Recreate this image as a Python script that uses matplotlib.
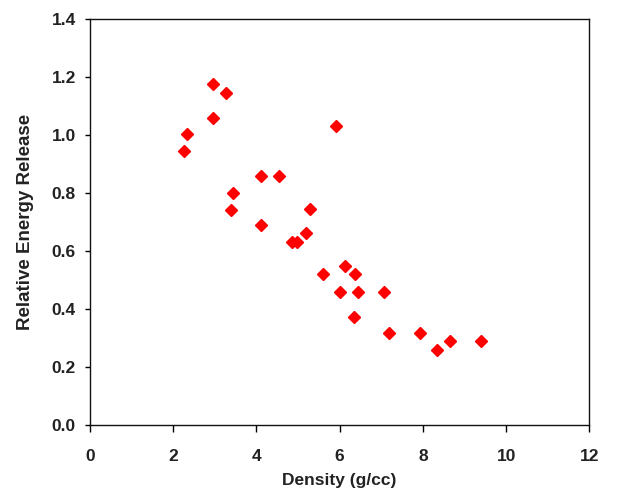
import matplotlib
matplotlib.use("Agg")
import matplotlib.pyplot as plt

# density (g/cc) vs relative energy release
density = [2.96, 3.27, 2.96, 2.33, 2.25, 4.12, 4.54, 3.44, 3.39, 4.12,
           5.92, 5.28, 5.18, 4.85, 4.97, 6.12, 5.61, 6.36, 6.00, 6.43,
           7.06, 6.34, 7.19, 7.92, 8.34, 8.66, 9.40]
energy = [1.176, 1.146, 1.060, 1.003, 0.946, 0.859, 0.859, 0.801, 0.742, 0.691,
          1.031, 0.744, 0.661, 0.632, 0.632, 0.548, 0.519, 0.519, 0.460, 0.460,
          0.460, 0.373, 0.316, 0.316, 0.259, 0.288, 0.288]

x_ticks = [0, 2, 4, 6, 8, 10, 12]
y_ticks = [0.0, 0.2, 0.4, 0.6, 0.8, 1.0, 1.2, 1.4]

plt.rcParams["font.family"] = ["Liberation Sans", "DejaVu Sans"]

fig = plt.figure(figsize=(6.3, 4.92), dpi=100)
ax = fig.add_axes([0.1429, 0.1362, 0.7925, 0.8252])

ax.plot(density, energy, linestyle="none", marker="D", markersize=6.2,
        color="#FF0000", markeredgecolor="#FF0000")

ax.set_xlim(0, 12)
ax.set_ylim(0, 1.4)
ax.set_xticks(x_ticks)
ax.set_yticks(y_ticks)
ax.set_xticklabels([str(t) for t in x_ticks])
ax.set_yticklabels([f"{t:.1f}" for t in y_ticks])
ax.tick_params(direction="out", width=1, labelsize=12.5, colors="black")
ax.tick_params(axis="x", length=5, pad=12)
ax.tick_params(axis="y", length=3.6, pad=6.5)
for lab in ax.get_xticklabels() + ax.get_yticklabels():
    lab.set_fontweight("bold")
    lab.set_color("#222222")

for sp in ax.spines.values():
    sp.set_linewidth(1.0)
    sp.set_color("#111111")

ax.set_xlabel("Density (g/cc)", fontsize=12.5, fontweight="bold", color="#222222")
ax.set_ylabel("Relative Energy Release", fontsize=13.5, fontweight="bold", color="#222222")
ax.xaxis.set_label_coords(0.5, -0.118)
ax.yaxis.set_label_coords(-0.112, 0.5)

fig.savefig("out.png", dpi=100)
plt.close(fig)
